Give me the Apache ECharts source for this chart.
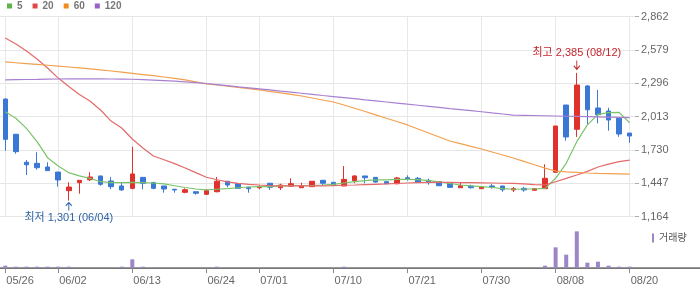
<!DOCTYPE html>
<html><head><meta charset="utf-8">
<script src="https://cdn.jsdelivr.net/npm/echarts@6.0.0/dist/echarts.min.js"></script>
<style>html,body{margin:0;padding:0;background:#fff}#c{width:700px;height:289px}</style>
</head><body><div id="c"></div><script>
const categories = ['05/26','05/27','05/28','05/29','05/30','06/02','06/04','06/05','06/09','06/10','06/11','06/12','06/13','06/16','06/17','06/18','06/19','06/20','06/23','06/24','06/25','06/26','06/27','06/30','07/01','07/02','07/03','07/04','07/07','07/08','07/09','07/10','07/11','07/14','07/15','07/16','07/17','07/18','07/21','07/22','07/23','07/24','07/25','07/28','07/29','07/30','07/31','08/01','08/04','08/05','08/06','08/07','08/08','08/11','08/12','08/13','08/14','08/18','08/19','08/20'];
const tickLabels = ['05/26','06/02','06/13','06/24','07/01','07/10','07/21','07/30','08/08','08/20'];
// [open, close, low, high]
const ohlc = [
[2163,1821,1724,2168],[1864,1716,1699,1864],[1626,1605,1518,1645],[1617,1580,1563,1711],[1586,1555,1555,1626],
[1543,1476,1419,1543],[1385,1416,1301,1456],[1453,1473,1359,1473],[1478,1501,1467,1541],[1510,1439,1427,1510],
[1467,1419,1397,1501],[1425,1391,1385,1450],[1405,1527,1397,1758],[1498,1447,1397,1498],[1453,1405,1397,1461],
[1425,1399,1368,1425],[1397,1391,1368,1397],[1371,1393,1363,1405],[1376,1363,1351,1376],[1354,1385,1348,1399],
[1376,1465,1371,1501],[1465,1433,1414,1465],[1445,1405,1405,1445],[1413,1402,1368,1419],[1410,1419,1397,1433],
[1448,1414,1391,1448],[1410,1433,1391,1444],[1422,1444,1422,1490],[1410,1427,1410,1453],[1419,1465,1419,1465],
[1473,1448,1433,1473],[1456,1431,1431,1456],[1425,1481,1425,1594],[1470,1510,1448,1515],[1510,1495,1448,1510],
[1498,1458,1453,1498],[1461,1444,1444,1461],[1444,1493,1439,1501],[1495,1484,1470,1515],[1490,1456,1450,1501],
[1473,1453,1436,1487],[1461,1427,1425,1461],[1450,1413,1413,1450],[1410,1427,1410,1453],[1425,1410,1402,1436],
[1402,1416,1402,1416],[1425,1416,1402,1441],[1425,1393,1376,1425],[1391,1402,1374,1416],[1405,1391,1376,1416],
[1388,1402,1388,1402],[1402,1490,1402,1609],[1541,1934,1541,1934],[2112,1841,1809,2112],[1906,2282,1841,2385],
[2274,2072,1948,2282],[2087,2030,1957,2240],[2061,1985,1894,2089],[2000,1866,1843,2000],[1874,1849,1792,1874]
];
const ma5 = [2055,2000,1914,1801,1665,1594,1538,1510,1490,1461,1453,1453,1456,1453,1450,1442,1427,1412,1399,1391,1397,1403,1410,1416,1420,1420,1425,1427,1429,1429,1433,1439,1450,1461,1470,1476,1476,1481,1481,1478,1471,1459,1446,1433,1425,1419,1412,1403,1397,1399,1399,1405,1490,1617,1801,1943,2033,2047,2050,1962];
const ma20 = [2681,2630,2571,2503,2426,2341,2270,2201,2146,2070,1976,1917,1824,1747,1679,1647,1615,1578,1538,1499,1478,1459,1447,1439,1433,1428,1425,1425,1425,1425,1425,1427,1431,1433,1436,1439,1442,1446,1450,1453,1456,1456,1456,1454,1453,1452,1450,1448,1447,1442,1437,1433,1461,1489,1518,1549,1586,1611,1631,1645];
const ma60 = [2478,2471,2464,2457,2450,2443,2435,2427,2419,2410,2401,2391,2381,2371,2361,2350,2338,2326,2309,2291,2282,2272,2262,2251,2240,2228,2215,2202,2189,2172,2155,2138,2112,2085,2057,2028,2000,1972,1943,1909,1875,1841,1807,1784,1761,1739,1713,1688,1662,1634,1605,1577,1552,1545,1540,1535,1532,1530,1528,1526];
const ma120 = [2325,2327,2329,2330,2332,2333,2334,2334,2334,2334,2333,2332,2331,2328,2324,2320,2315,2309,2302,2295,2286,2277,2267,2258,2249,2240,2230,2221,2212,2203,2193,2184,2175,2166,2156,2147,2138,2129,2119,2110,2101,2092,2082,2073,2064,2055,2045,2036,2027,2025,2023,2021,2019,2017,2015,2013,2011,2009,2007,2005];
const volume = [70000,40000,40000,40000,40000,40000,40000,6000,6000,6000,6000,40000,260000,40000,6000,6000,6000,6000,6000,6000,40000,6000,6000,6000,6000,6000,6000,6000,6000,6000,6000,6000,40000,6000,6000,6000,6000,6000,6000,6000,6000,6000,6000,6000,6000,6000,6000,6000,6000,6000,6000,70000,620000,400000,1100000,160000,190000,70000,40000,40000];
const priceTicks = {min:1164, max:2862, interval:283};
const highMark = {date:'08/12', value:2385};
const lowMark = {date:'06/04', value:1301};

const FONT = '"Liberation Sans", Arial, "Noto Sans CJK KR", sans-serif';
const fmt = v => Number(v).toLocaleString('en-US');
const isTick = (i) => tickLabels.indexOf(categories[i]) >= 0;
const UP = '#e0322d', DOWN = '#3a78d6';

const chart = echarts.init(document.getElementById('c'), null, {renderer:'canvas'});
chart.setOption({
  animation:false,
  textStyle:{fontFamily:FONT},
  legend:[
    {data:['5','20','60','120'], left:7, top:1, padding:0, icon:'rect', itemWidth:5, itemHeight:5, itemGap:10,
     textStyle:{color:'#777', fontSize:10, fontWeight:'bold', fontFamily:FONT}},
    {data:['거래량'], left:652, top:233, padding:0, icon:'rect', itemWidth:2, itemHeight:9,
     textStyle:{color:'#555', fontSize:10, fontFamily:FONT}}
  ],
  grid:[
    {left:0, width:635, top:16.7, height:200},
    {left:0, width:635, top:228, height:40},
    {left:0, right:0, top:225.5, height:42.5}
  ],
  xAxis:[
    {gridIndex:0, type:'category', data:categories, boundaryGap:true,
     axisLine:{show:false}, axisTick:{show:false}, axisLabel:{show:false},
     splitLine:{show:true, interval:(i)=>isTick(i), alignWithLabel:true, lineStyle:{color:'#e8e8e8'}}},
    {gridIndex:1, type:'category', data:categories, boundaryGap:true,
     axisLine:{show:false},
     axisTick:{show:true, interval:(i)=>isTick(i), alignWithLabel:true, length:5, lineStyle:{color:'#888'}},
     axisLabel:{show:true, interval:(i)=>isTick(i), align:'left', margin:7, color:'#666', fontSize:11, fontFamily:FONT, padding:[0,0,0,1]},
     splitLine:{show:false}},
    {gridIndex:2, type:'value', position:'top', min:0, max:1, axisLine:{show:true, lineStyle:{color:'#777', width:1.5}},
     axisTick:{show:false}, axisLabel:{show:false}, splitLine:{show:false}},
    {gridIndex:2, type:'value', position:'bottom', min:0, max:1, axisLine:{show:true, lineStyle:{color:'#777', width:1.2}},
     axisTick:{show:false}, axisLabel:{show:false}, splitLine:{show:false}}
  ],
  yAxis:[
    {gridIndex:0, type:'value', position:'right', min:priceTicks.min, max:priceTicks.max, interval:priceTicks.interval,
     axisLine:{show:false}, axisTick:{show:true, length:4, lineStyle:{color:'#aaa'}},
     axisLabel:{color:'#666', fontSize:11, margin:6, fontFamily:FONT, formatter:(v)=>fmt(v)},
     splitLine:{show:true, lineStyle:{color:'#e6e6e6'}}},
    {gridIndex:1, type:'value', min:0, max:1200000, show:false},
    {gridIndex:2, type:'value', min:0, max:1, show:false}
  ],
  series:[
    {name:'일봉', type:'candlestick', xAxisIndex:0, yAxisIndex:0, data:ohlc, barWidth:5, clip:false,
     itemStyle:{color:UP, color0:DOWN, borderColor:UP, borderColor0:DOWN, borderWidth:1},
     markPoint:{
       silent:true, animation:false,
       data:[
         {coord:[categories.indexOf(highMark.date), highMark.value], symbol:'path://M4,0 L4,10 M0.5,6 L4,10 L7.5,6',
          symbolSize:[6,9], symbolOffset:[0,-8], symbolKeepAspect:false,
          itemStyle:{color:'rgba(0,0,0,0)', borderColor:'#c4262c', borderWidth:1.1},
          label:{show:true, position:'top', distance:1, color:'#c4262c', fontSize:11, fontFamily:FONT,
                 formatter:()=> '최고 ' + fmt(highMark.value) + ' (' + highMark.date + ')'}},
         {coord:[categories.indexOf(lowMark.date), lowMark.value], symbol:'path://M4,10 L4,0 M0.5,4 L4,0 L7.5,4',
          symbolSize:[6,8], symbolOffset:[0,6], symbolKeepAspect:false,
          itemStyle:{color:'rgba(0,0,0,0)', borderColor:'#2e64a6', borderWidth:1.1},
          label:{show:true, position:'bottom', distance:1, color:'#2e64a6', fontSize:11, fontFamily:FONT,
                 formatter:()=> '최저 ' + fmt(lowMark.value) + ' (' + lowMark.date + ')'}}
       ]
     }},
    {name:'5', type:'line', xAxisIndex:0, yAxisIndex:0, data:ma5, showSymbol:false, color:'#5cb546', lineStyle:{width:1.2, color:'#7cc46a'}},
    {name:'20', type:'line', xAxisIndex:0, yAxisIndex:0, data:ma20, showSymbol:false, color:'#e04848', lineStyle:{width:1.2, color:'#e46a6a'}},
    {name:'60', type:'line', xAxisIndex:0, yAxisIndex:0, data:ma60, showSymbol:false, color:'#f28a1e', lineStyle:{width:1.2, color:'#f2a04e'}},
    {name:'120', type:'line', xAxisIndex:0, yAxisIndex:0, data:ma120, showSymbol:false, color:'#9a5fc8', lineStyle:{width:1.2, color:'#a880d2'}},
    {name:'거래량', type:'bar', xAxisIndex:1, yAxisIndex:1, data:volume, barWidth:4, itemStyle:{color:'#9d86c8'}}
  ]
});
</script></body></html>
